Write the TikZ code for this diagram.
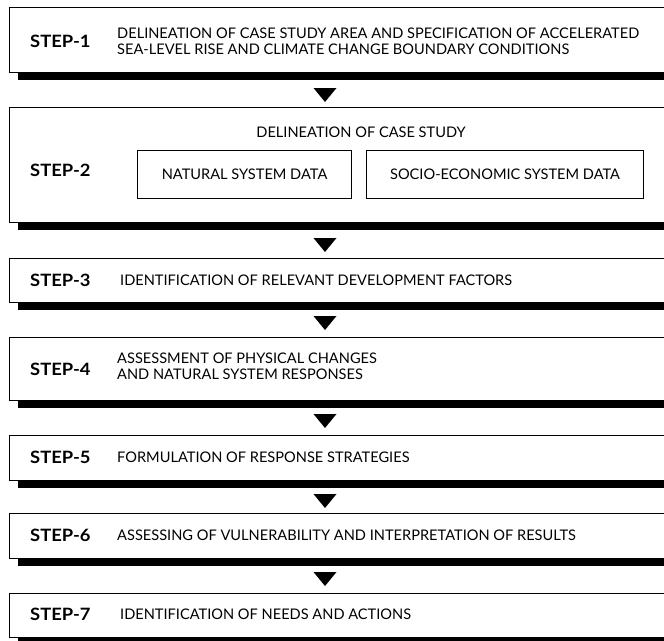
\documentclass[tikz,border=0pt]{standalone}
\usepackage{fontspec}
\setmainfont{Lato}
\newfontfamily\stepfont[FakeStretch=1.08]{Lato}
\begin{document}
\begin{tikzpicture}[x=1pt,y=-1pt,
  stepbox/.style={draw, line width=1.3pt, fill=white, anchor=north west, minimum width=700pt, inner sep=0},
  innerbox/.style={draw, line width=1.1pt, fill=white, inner sep=0, minimum height=48pt},
  steplabel/.style={anchor=west, font=\stepfont\bfseries\fontsize{17}{17}\selectfont, inner sep=0},
  desc/.style={anchor=west, align=left, font=\fontsize{14.6}{16}\selectfont, inner sep=0},
  plain/.style={font=\fontsize{14.6}{15}\selectfont, inner sep=0},
  shadowbar/.style={fill=black},
  tri/.style={fill=black}]
\useasboundingbox (0,0) rectangle (664,640);
\clip (0,0) rectangle (664,640);
% shadows
\foreach \t/\b in {7/72,107/222,258/302,337/400,435/480,513/558,593/637}{
  \fill[shadowbar] (18,\b) rectangle (700,\b+8);
}
% boxes
\node[stepbox, minimum height=65pt] (b1) at (9,7) {};
\node[stepbox, minimum height=115pt] (b2) at (9,107) {};
\node[stepbox, minimum height=44pt] (b3) at (9,258) {};
\node[stepbox, minimum height=63pt] (b4) at (9,337) {};
\node[stepbox, minimum height=45pt] (b5) at (9,435) {};
\node[stepbox, minimum height=45pt] (b6) at (9,513) {};
\node[stepbox, minimum height=44pt] (b7) at (9,593) {};
% inner boxes of step 2
\node[innerbox, minimum width=214pt, anchor=north west] (nat) at (137,150) {};
\node[plain] (natt) at (nat.center) {NATURAL SYSTEM DATA};
\node[innerbox, minimum width=277pt, anchor=north west] (soc) at (366,150) {};
\node[plain] (soct) at (soc.center) {SOCIO-ECONOMIC SYSTEM DATA};
\node[plain] (del) at (361,132) {DELINEATION OF CASE STUDY};
% labels
\node[steplabel] (s1) at (30,41) {STEP-1};
\node[desc] (d1) at (117,41) {DELINEATION OF CASE STUDY AREA AND SPECIFICATION OF ACCELERATED\\SEA-LEVEL RISE AND CLIMATE CHANGE BOUNDARY CONDITIONS};
\node[steplabel] (s2) at (30,170) {STEP-2};
\node[steplabel] (s3) at (30,280) {STEP-3};
\node[desc] (d3) at (120,280) {IDENTIFICATION OF RELEVANT DEVELOPMENT FACTORS};
\node[steplabel] (s4) at (30,369) {STEP-4};
\node[desc] (d4) at (117,366) {ASSESSMENT OF PHYSICAL CHANGES\\AND NATURAL SYSTEM RESPONSES};
\node[steplabel] (s5) at (30,457) {STEP-5};
\node[desc] (d5) at (117,457) {FORMULATION OF RESPONSE STRATEGIES};
\node[steplabel] (s6) at (30,535) {STEP-6};
\node[desc] (d6) at (117,535) {ASSESSING OF VULNERABILITY AND INTERPRETATION OF RESULTS};
\node[steplabel] (s7) at (30,614) {STEP-7};
\node[desc] (d7) at (120,614) {IDENTIFICATION OF NEEDS AND ACTIONS};
% arrowheads
\foreach \y in {88,238,316,414,494,572}{
  \fill[tri] (313.5,\y) -- (336.5,\y) -- (325,\y+14) -- cycle;
}
\end{tikzpicture}
\end{document}
